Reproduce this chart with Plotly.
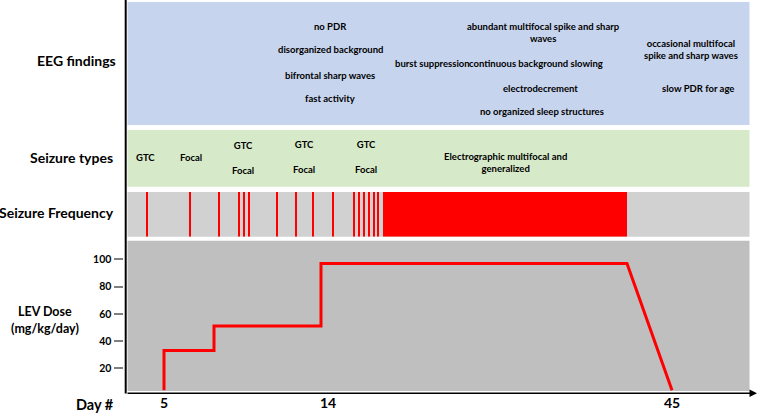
import plotly.graph_objects as go

W, H = 758, 414

# ---------------- data (schematic timeline units) ----------------
day_tick_pos = [164, 328, 672]
day_tick_text = ["5", "14", "45"]

seizure_event_pos = [147, 190, 219, 239, 244, 249, 277, 296, 313, 333,
                     354, 359, 364, 369, 374, 378]
continuous_seizure_start = 383
continuous_seizure_end = 627

dose_pos = [164, 164, 214, 214, 321, 321, 627, 672]
dose_val = [4, 33, 33, 51, 51, 97, 97, 4]
dose_ticks = [20, 40, 60, 80, 100]

eeg_texts = ["no PDR", "disorganized background", "bifrontal sharp waves", "fast activity",
             "burst suppression", "abundant multifocal spike and sharp<br>waves",
             "continuous background slowing", "electrodecrement",
             "no organized sleep structures", "occasional multifocal<br>spike and sharp waves",
             "slow PDR for age"]
seizure_type_texts = ["GTC", "Focal", "GTC<br><br>Focal", "GTC<br><br>Focal", "GTC<br><br>Focal",
                      "Electrographic multifocal and<br>generalized"]
row_labels = ["EEG findings", "Seizure types", "Seizure Frequency"]

# ---------------- layout helpers ----------------
def py(p):  # pixel y -> paper
    return 1 - p / H

def px(p):
    return p / W

FONT = "Lato"
C_EEG = "#c7d4ed"
C_SZ = "#d6e9c8"
C_FREQ = "#d1d1d1"
C_DOSE = "#bfbfbf"
RED = "#ff0000"

fig = go.Figure()

# seizure frequency bars
fig.add_trace(go.Bar(x=seizure_event_pos, y=[1] * len(seizure_event_pos),
                     width=[1.7] * len(seizure_event_pos), marker=dict(color=RED, line=dict(width=0)),
                     yaxis="y2", showlegend=False, hoverinfo="skip"))
fig.add_trace(go.Bar(x=[(continuous_seizure_start + continuous_seizure_end) / 2], y=[1],
                     width=[continuous_seizure_end - continuous_seizure_start],
                     marker=dict(color=RED, line=dict(width=0)),
                     yaxis="y2", showlegend=False, hoverinfo="skip"))

# dose line
fig.add_trace(go.Scatter(x=dose_pos, y=dose_val, mode="lines",
                         line=dict(color=RED, width=3), yaxis="y", showlegend=False,
                         hoverinfo="skip"))

shapes = [
    dict(type="rect", xref="paper", yref="paper", x0=px(127.5), x1=px(749.5), y0=py(125), y1=py(2),
         fillcolor=C_EEG, line=dict(width=0), layer="below"),
    dict(type="rect", xref="paper", yref="paper", x0=px(127.5), x1=px(749.5), y0=py(186.7), y1=py(130),
         fillcolor=C_SZ, line=dict(width=0), layer="below"),
    dict(type="rect", xref="paper", yref="paper", x0=px(127.5), x1=px(749.5), y0=py(236.7), y1=py(192),
         fillcolor=C_FREQ, line=dict(width=0), layer="below"),
    dict(type="rect", xref="paper", yref="paper", x0=px(127.5), x1=px(749.5), y0=py(391), y1=py(240.7),
         fillcolor=C_DOSE, line=dict(width=0), layer="below"),
    dict(type="line", xref="paper", yref="paper", x0=px(125.7), x1=px(125.7), y0=py(0), y1=py(393.5),
         line=dict(color="black", width=2)),
]

annotations = []

def txt(x, y, s, size=9.5, xanchor="center", xref="x"):
    annotations.append(dict(x=x, y=py(y), xref=xref, yref="paper", text="<b>" + s + "</b>",
                            showarrow=False, xanchor=xanchor, yanchor="middle",
                            font=dict(family=FONT, size=size, color="black")))

eeg_pos = [(330, 26), (330, 50), (330, 75), (330, 99), (432, 63), (543, 32), (536, 63),
           (540, 88), (541.5, 112), (690.5, 49.5), (698, 88)]
for s, (x, y) in zip(eeg_texts, eeg_pos):
    txt(x, y, s)

sz_pos = [(145, 157), (190.5, 157), (243, 157.5), (304, 157), (366, 157), (505, 162.5)]
for s, (x, y) in zip(seizure_type_texts, sz_pos):
    txt(x, y, s)

lab_pos = [(118, 61), (115, 157), (115.5, 213)]
for s, (x, y) in zip(row_labels, lab_pos):
    txt(px(x), y, s, size=14, xanchor="right", xref="paper")

txt(px(45), 311.5, "LEV Dose", size=12.5, xref="paper")
txt(px(45), 328, "(mg/kg/day)", size=12.5, xref="paper")
txt(px(95), 404.5, "Day #", size=14.5, xref="paper")

# horizontal axis arrow
annotations.append(dict(x=px(757), y=py(393.3), xref="paper", yref="paper", ax=-631, ay=0,
                        axref="pixel", ayref="pixel", showarrow=True, arrowhead=2, arrowsize=1,
                        arrowwidth=1.5, arrowcolor="black", text=""))

dose_top, dose_bot = 240.7, 391
k = (395.6 - 259.3) / 100.0
fig.update_layout(
    width=W, height=H, margin=dict(l=0, r=0, t=0, b=0),
    paper_bgcolor="white", plot_bgcolor="rgba(0,0,0,0)",
    barmode="overlay",
    shapes=shapes, annotations=annotations,
    xaxis=dict(range=[0, W], domain=[0, 1], anchor="free", position=py(393.3),
               showgrid=False, zeroline=False, showline=False, ticks="",
               tickvals=day_tick_pos, ticktext=["<b>" + t + "</b>" for t in day_tick_text],
               tickfont=dict(family=FONT, size=14, color="black")),
    yaxis=dict(domain=[py(dose_bot), py(dose_top)],
               range=[(395.6 - dose_bot) / k, (395.6 - dose_top) / k],
               anchor="free", position=px(122.5), side="left",
               showgrid=False, zeroline=False, showline=False,
               ticks="outside", ticklen=9, tickwidth=2, tickcolor="#7f7f7f",
               tickvals=dose_ticks, ticktext=["<b>%d</b>" % v for v in dose_ticks],
               tickfont=dict(family=FONT, size=10.5, color="black")),
    yaxis2=dict(domain=[py(236.7), py(192)], range=[0, 1], anchor="x", overlaying=None,
                visible=False, showgrid=False, zeroline=False),
)

fig.write_html("out.html", config={"displayModeBar": False},
               post_script="document.body.style.margin='0';document.body.style.overflow='hidden';")
